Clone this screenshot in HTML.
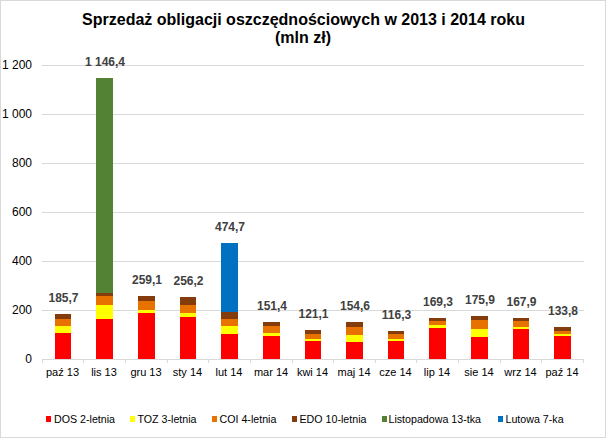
<!DOCTYPE html>
<html><head><meta charset="utf-8"><style>
html,body{margin:0;padding:0;background:#fff;}
.wrap{position:relative;width:606px;height:438px;overflow:hidden;}
svg{position:absolute;left:0;top:0;}
text{font-family:"Liberation Sans",sans-serif;}
.tt{font-size:16px;font-weight:bold;fill:#000;}
.yl{font-size:12px;fill:#000;}
.cl{font-size:11px;fill:#000;}
.dl{font-size:12px;font-weight:bold;fill:#404040;}
.lg{font-size:10.67px;fill:#000;}
</style></head><body><div class="wrap">
<svg width="606" height="438" viewBox="0 0 606 438" shape-rendering="crispEdges">
<rect x="0.5" y="0.5" width="605" height="437" fill="#fff" stroke="#D9D9D9" stroke-width="1"/>
<rect x="42" y="65" width="542" height="1" fill="#D9D9D9"/>
<rect x="42" y="114" width="542" height="1" fill="#D9D9D9"/>
<rect x="42" y="163" width="542" height="1" fill="#D9D9D9"/>
<rect x="42" y="212" width="542" height="1" fill="#D9D9D9"/>
<rect x="42" y="261" width="542" height="1" fill="#D9D9D9"/>
<rect x="42" y="310" width="542" height="1" fill="#D9D9D9"/>
<text x="32" y="69" class="yl" text-anchor="end">1 200</text>
<text x="32" y="118" class="yl" text-anchor="end">1 000</text>
<text x="32" y="167" class="yl" text-anchor="end">800</text>
<text x="32" y="216" class="yl" text-anchor="end">600</text>
<text x="32" y="265" class="yl" text-anchor="end">400</text>
<text x="32" y="314" class="yl" text-anchor="end">200</text>
<text x="32" y="363" class="yl" text-anchor="end">0</text>
<rect x="55" y="333" width="16" height="26" fill="#FF0000"/>
<rect x="55" y="326" width="16" height="7" fill="#FFFF00"/>
<rect x="55" y="319" width="16" height="7" fill="#E87200"/>
<rect x="55" y="314" width="16" height="5" fill="#843C0C"/>
<text x="63.5" y="302" class="dl" text-anchor="middle">185,7</text>
<rect x="96" y="319" width="17" height="40" fill="#FF0000"/>
<rect x="96" y="305" width="17" height="14" fill="#FFFF00"/>
<rect x="96" y="296" width="17" height="9" fill="#E87200"/>
<rect x="96" y="293" width="17" height="3" fill="#843C0C"/>
<rect x="96" y="78" width="17" height="215" fill="#548235"/>
<text x="105.0" y="66" class="dl" text-anchor="middle">1 146,4</text>
<rect x="138" y="313" width="17" height="46" fill="#FF0000"/>
<rect x="138" y="310" width="17" height="3" fill="#FFFF00"/>
<rect x="138" y="301" width="17" height="9" fill="#E87200"/>
<rect x="138" y="296" width="17" height="5" fill="#843C0C"/>
<text x="147.0" y="284" class="dl" text-anchor="middle">259,1</text>
<rect x="180" y="317" width="16" height="42" fill="#FF0000"/>
<rect x="180" y="313" width="16" height="4" fill="#FFFF00"/>
<rect x="180" y="305" width="16" height="8" fill="#E87200"/>
<rect x="180" y="297" width="16" height="8" fill="#843C0C"/>
<text x="188.5" y="285" class="dl" text-anchor="middle">256,2</text>
<rect x="221" y="334" width="17" height="25" fill="#FF0000"/>
<rect x="221" y="326" width="17" height="8" fill="#FFFF00"/>
<rect x="221" y="319" width="17" height="7" fill="#E87200"/>
<rect x="221" y="312" width="17" height="7" fill="#843C0C"/>
<rect x="221" y="243" width="17" height="69" fill="#0070C0"/>
<text x="230.0" y="231" class="dl" text-anchor="middle">474,7</text>
<rect x="263" y="336" width="17" height="23" fill="#FF0000"/>
<rect x="263" y="333" width="17" height="3" fill="#FFFF00"/>
<rect x="263" y="326" width="17" height="7" fill="#E87200"/>
<rect x="263" y="322" width="17" height="4" fill="#843C0C"/>
<text x="272.0" y="310" class="dl" text-anchor="middle">151,4</text>
<rect x="305" y="341" width="16" height="18" fill="#FF0000"/>
<rect x="305" y="339" width="16" height="2" fill="#FFFF00"/>
<rect x="305" y="334" width="16" height="5" fill="#E87200"/>
<rect x="305" y="330" width="16" height="4" fill="#843C0C"/>
<text x="313.5" y="318" class="dl" text-anchor="middle">121,1</text>
<rect x="346" y="342" width="17" height="17" fill="#FF0000"/>
<rect x="346" y="335" width="17" height="7" fill="#FFFF00"/>
<rect x="346" y="327" width="17" height="8" fill="#E87200"/>
<rect x="346" y="322" width="17" height="5" fill="#843C0C"/>
<text x="355.0" y="310" class="dl" text-anchor="middle">154,6</text>
<rect x="388" y="341" width="16" height="18" fill="#FF0000"/>
<rect x="388" y="339" width="16" height="2" fill="#FFFF00"/>
<rect x="388" y="334" width="16" height="5" fill="#E87200"/>
<rect x="388" y="331" width="16" height="3" fill="#843C0C"/>
<text x="396.5" y="319" class="dl" text-anchor="middle">116,3</text>
<rect x="429" y="328" width="17" height="31" fill="#FF0000"/>
<rect x="429" y="325" width="17" height="3" fill="#FFFF00"/>
<rect x="429" y="321" width="17" height="4" fill="#E87200"/>
<rect x="429" y="318" width="17" height="3" fill="#843C0C"/>
<text x="438.0" y="306" class="dl" text-anchor="middle">169,3</text>
<rect x="471" y="337" width="17" height="22" fill="#FF0000"/>
<rect x="471" y="329" width="17" height="8" fill="#FFFF00"/>
<rect x="471" y="320" width="17" height="9" fill="#E87200"/>
<rect x="471" y="316" width="17" height="4" fill="#843C0C"/>
<text x="480.0" y="304" class="dl" text-anchor="middle">175,9</text>
<rect x="513" y="329" width="16" height="30" fill="#FF0000"/>
<rect x="513" y="327" width="16" height="2" fill="#FFFF00"/>
<rect x="513" y="321" width="16" height="6" fill="#E87200"/>
<rect x="513" y="318" width="16" height="3" fill="#843C0C"/>
<text x="521.5" y="306" class="dl" text-anchor="middle">167,9</text>
<rect x="554" y="336" width="17" height="23" fill="#FF0000"/>
<rect x="554" y="334" width="17" height="2" fill="#FFFF00"/>
<rect x="554" y="331" width="17" height="3" fill="#E87200"/>
<rect x="554" y="327" width="17" height="4" fill="#843C0C"/>
<text x="563.0" y="315" class="dl" text-anchor="middle">133,8</text>
<rect x="42" y="359" width="542" height="1" fill="#D9D9D9"/>
<rect x="42" y="359" width="1" height="4" fill="#D9D9D9"/>
<rect x="83" y="359" width="1" height="4" fill="#D9D9D9"/>
<rect x="125" y="359" width="1" height="4" fill="#D9D9D9"/>
<rect x="167" y="359" width="1" height="4" fill="#D9D9D9"/>
<rect x="208" y="359" width="1" height="4" fill="#D9D9D9"/>
<rect x="250" y="359" width="1" height="4" fill="#D9D9D9"/>
<rect x="292" y="359" width="1" height="4" fill="#D9D9D9"/>
<rect x="333" y="359" width="1" height="4" fill="#D9D9D9"/>
<rect x="375" y="359" width="1" height="4" fill="#D9D9D9"/>
<rect x="416" y="359" width="1" height="4" fill="#D9D9D9"/>
<rect x="458" y="359" width="1" height="4" fill="#D9D9D9"/>
<rect x="500" y="359" width="1" height="4" fill="#D9D9D9"/>
<rect x="541" y="359" width="1" height="4" fill="#D9D9D9"/>
<rect x="583" y="359" width="1" height="4" fill="#D9D9D9"/>
<text x="62.5" y="376" class="cl" text-anchor="middle">paź 13</text>
<text x="104.0" y="376" class="cl" text-anchor="middle">lis 13</text>
<text x="146.0" y="376" class="cl" text-anchor="middle">gru 13</text>
<text x="187.5" y="376" class="cl" text-anchor="middle">sty 14</text>
<text x="229.0" y="376" class="cl" text-anchor="middle">lut 14</text>
<text x="271.0" y="376" class="cl" text-anchor="middle">mar 14</text>
<text x="312.5" y="376" class="cl" text-anchor="middle">kwi 14</text>
<text x="354.0" y="376" class="cl" text-anchor="middle">maj 14</text>
<text x="395.5" y="376" class="cl" text-anchor="middle">cze 14</text>
<text x="437.0" y="376" class="cl" text-anchor="middle">lip 14</text>
<text x="479.0" y="376" class="cl" text-anchor="middle">sie 14</text>
<text x="520.5" y="376" class="cl" text-anchor="middle">wrz 14</text>
<text x="562.0" y="376" class="cl" text-anchor="middle">paź 14</text>
<rect x="46" y="416" width="5" height="6" fill="#FF0000"/>
<text x="54.0" y="422.7" class="lg">DOS 2-letnia</text>
<rect x="130" y="416" width="5" height="6" fill="#FFFF00"/>
<text x="137.5" y="422.7" class="lg">TOZ 3-letnia</text>
<rect x="212" y="416" width="5" height="6" fill="#E87200"/>
<text x="219.5" y="422.7" class="lg">COI 4-letnia</text>
<rect x="292" y="416" width="5" height="6" fill="#843C0C"/>
<text x="299.5" y="422.7" class="lg">EDO 10-letnia</text>
<rect x="382" y="416" width="5" height="6" fill="#548235"/>
<text x="388.5" y="422.7" class="lg">Listopadowa 13-tka</text>
<rect x="498" y="416" width="5" height="6" fill="#0070C0"/>
<text x="505.5" y="422.7" class="lg">Lutowa 7-ka</text>
<text x="303.5" y="25" class="tt" text-anchor="middle">Sprzedaż obligacji oszczędnościowych w 2013 i 2014 roku</text>
<text x="303" y="42.5" class="tt" text-anchor="middle">(mln zł)</text>
</svg></div></body></html>
